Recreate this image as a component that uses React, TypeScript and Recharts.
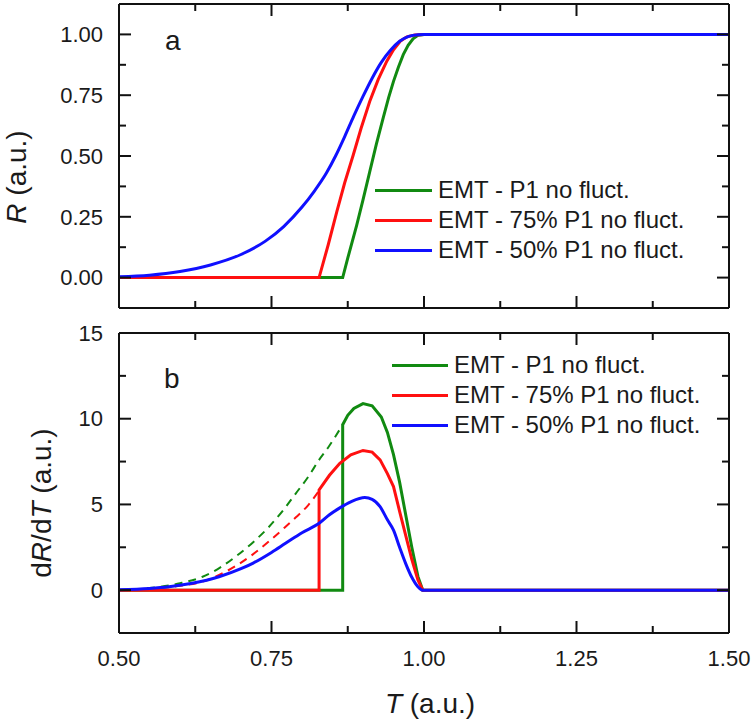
import React from "react";
import { LineChart, Line, XAxis, YAxis, ReferenceLine, Legend } from "recharts";

// panel a: R(T)
const tRGreen = [0.5, 0.8667, 0.875, 0.8896, 0.9, 0.911, 0.922, 0.933, 0.942, 0.95, 0.958, 0.966, 0.974, 0.982, 0.99, 1.0, 1.5];
const rGreen = [0, 0, 0.08, 0.215, 0.32, 0.435, 0.55, 0.656, 0.74, 0.807, 0.865, 0.917, 0.955, 0.982, 0.996, 1, 1];

const tRRed = [0.5, 0.828, 0.843, 0.857, 0.87, 0.884, 0.897, 0.911, 0.925, 0.939, 0.95, 0.961, 0.972, 0.985, 1.0, 1.5];
const rRed = [0, 0, 0.135, 0.27, 0.39, 0.504, 0.615, 0.724, 0.815, 0.89, 0.937, 0.972, 0.99, 0.998, 1, 1];

const tRBlue = [0.5, 0.55, 0.6, 0.65, 0.7, 0.74, 0.77, 0.8, 0.82, 0.84, 0.855, 0.87, 0.885, 0.9, 0.915, 0.93, 0.945, 0.96, 0.975, 0.99, 1.0, 1.5];
const rBlue = [0.004, 0.01, 0.025, 0.052, 0.095, 0.15, 0.21, 0.29, 0.355, 0.43, 0.5, 0.58, 0.665, 0.745, 0.82, 0.885, 0.935, 0.972, 0.992, 0.999, 1, 1];

// panel b: dR/dT
const tDGreen = [0.5, 0.8667, 0.8667, 0.875, 0.885, 0.9, 0.915, 0.93, 0.94, 0.95, 0.96, 0.97, 0.98, 0.99, 0.998, 1.5];
const dGreen = [0, 0, 9.65, 10.2, 10.6, 10.88, 10.75, 10.1, 9.2, 7.9, 6.3, 4.4, 2.5, 0.8, 0, 0];

const tDRed = [0.5, 0.828, 0.828, 0.845, 0.862, 0.88, 0.9, 0.915, 0.928, 0.94, 0.95, 0.96, 0.97, 0.98, 0.99, 0.998, 1.5];
const dRed = [0, 0, 5.85, 6.7, 7.4, 7.9, 8.15, 8.05, 7.6, 6.8, 6.04, 4.6, 3.2, 1.8, 0.6, 0, 0];

const tDBlue = [0.5, 0.55, 0.582, 0.62, 0.664, 0.7, 0.72, 0.75, 0.773, 0.8, 0.828, 0.845, 0.862, 0.88, 0.903, 0.915, 0.928, 0.94, 0.95, 0.96, 0.97, 0.98, 0.99, 0.998, 1.5];
const dBlue = [0.02, 0.1, 0.2, 0.4, 0.78, 1.25, 1.58, 2.2, 2.73, 3.35, 3.9, 4.4, 4.8, 5.15, 5.4, 5.3, 4.87, 4.1, 3.5, 2.5, 1.55, 0.75, 0.2, 0, 0];

// dashed continuations below the jump
const tDashGreen = [0.5, 0.55, 0.6, 0.637, 0.665, 0.691, 0.72, 0.746, 0.77, 0.79, 0.81, 0.828, 0.844, 0.8667];
const dDashGreen = [0, 0.12, 0.4, 0.78, 1.3, 1.95, 2.8, 3.7, 4.7, 5.65, 6.6, 7.6, 8.38, 9.65];

const tDashRed = [0.5, 0.55, 0.6, 0.637, 0.665, 0.691, 0.72, 0.746, 0.77, 0.79, 0.81, 0.828];
const dDashRed = [0, 0.08, 0.25, 0.5, 0.9, 1.4, 2.1, 2.85, 3.6, 4.25, 4.95, 5.8];

const xTicks = [0.5, 0.625, 0.75, 0.875, 1, 1.125, 1.25, 1.375, 1.5];
const rTicks = [0, 0.125, 0.25, 0.375, 0.5, 0.625, 0.75, 0.875, 1];
const dTicks = [0, 2.5, 5, 7.5, 10, 12.5, 15];

const names = ["EMT - P1 no fluct.", "EMT - 75% P1 no fluct.", "EMT - 50% P1 no fluct."];
const GREEN = "#118a11";
const RED = "#ff1010";
const BLUE = "#1010ff";
const colors = [GREEN, RED, BLUE];

const FONT = "'Liberation Sans', Arial, sans-serif";
const X_DOM = [0.5, 1.5];
const R_DOM = [-0.125, 1.125];
const D_DOM = [-2.5, 15];
const PLOT_W = 610;
const TOP_H = 304;
const BOT_H = 300;
const MAJOR_LEN = 12;
const MINOR_LEN = 7;

const zip = (t: number[], v: number[]) => t.map((x, i) => ({ t: x, v: v[i] }));

const isMajor = (v: number, step: number) => Math.abs(v / step - Math.round(v / step)) < 1e-6;

// box frame plus inward tick marks on all four sides
const frameMarks = (yDom: number[], yTicks: number[], yStep: number, plotH: number) => {
  const xu = (X_DOM[1] - X_DOM[0]) / PLOT_W;
  const yu = (yDom[1] - yDom[0]) / plotH;
  const segs: { x: number; y: number }[][] = [];
  xTicks.forEach((t) => {
    const l = (isMajor(t, 0.25) ? MAJOR_LEN : MINOR_LEN) * yu;
    segs.push([{ x: t, y: yDom[0] }, { x: t, y: yDom[0] + l }]);
    segs.push([{ x: t, y: yDom[1] }, { x: t, y: yDom[1] - l }]);
  });
  yTicks.forEach((v) => {
    const l = (isMajor(v, yStep) ? MAJOR_LEN : MINOR_LEN) * xu;
    segs.push([{ x: X_DOM[0], y: v }, { x: X_DOM[0] + l, y: v }]);
    segs.push([{ x: X_DOM[1], y: v }, { x: X_DOM[1] - l, y: v }]);
  });
  return [
    ...segs.map((s, i) => (
      <ReferenceLine key={`tk${i}`} segment={s} stroke="#111" strokeWidth={2} ifOverflow="visible" />
    )),
    <ReferenceLine key="f1" x={X_DOM[0]} stroke="#111" strokeWidth={2} ifOverflow="visible" />,
    <ReferenceLine key="f2" x={X_DOM[1]} stroke="#111" strokeWidth={2} ifOverflow="visible" />,
    <ReferenceLine key="f3" y={yDom[0]} stroke="#111" strokeWidth={2} ifOverflow="visible" />,
    <ReferenceLine key="f4" y={yDom[1]} stroke="#111" strokeWidth={2} ifOverflow="visible" />,
  ];
};

const makeXTick = (props: any) => {
  const v = props.payload.value;
  if (!isMajor(v, 0.25)) return <g />;
  return (
    <text x={props.x} y={Number(props.y) + 25} dy="0.35em" textAnchor="middle" fontSize={22} fontFamily={FONT} fill="#1a1a1a">
      {v.toFixed(2)}
    </text>
  );
};

const makeYTick = (step: number, digits: number) => (props: any) => {
  const v = props.payload.value;
  if (!isMajor(v, step)) return <g />;
  return (
    <text x={Number(props.x) - 16} y={props.y} dy="0.35em" textAnchor="end" fontSize={22} fontFamily={FONT} fill="#1a1a1a">
      {v.toFixed(digits)}
    </text>
  );
};

const LegendBox = ({ lineW }: { lineW: number }) => (
  <div style={{ fontFamily: FONT, fontSize: 24, color: "#1a1a1a" }}>
    {names.map((n, i) => (
      <div key={n} style={{ display: "flex", alignItems: "center", height: 30 }}>
        <span style={{ display: "inline-block", width: lineW, height: 3, background: colors[i], marginRight: 6 }} />
        <span>{n}</span>
      </div>
    ))}
  </div>
);

const App = () => {
  const rSeries = [zip(tRGreen, rGreen), zip(tRRed, rRed), zip(tRBlue, rBlue)];
  const dSeries = [zip(tDGreen, dGreen), zip(tDRed, dRed), zip(tDBlue, dBlue)];

  return (
    <div style={{ position: "absolute", left: 0, top: 0, width: 753, height: 724, background: "#fff", fontFamily: FONT }}>
      <div style={{ position: "absolute", left: 0, top: 0 }}>
        <LineChart width={753} height={312} margin={{ top: 4, right: 24, bottom: 4, left: 0 }}>
          <XAxis dataKey="t" type="number" domain={X_DOM} ticks={xTicks} interval={0} allowDataOverflow hide />
          <YAxis
            type="number"
            domain={R_DOM}
            ticks={rTicks}
            interval={0}
            allowDataOverflow
            width={119}
            axisLine={false}
            tickLine={false}
            tickSize={0}
            tickMargin={0}
            tick={makeYTick(0.25, 2)}
            label={() => (
              <text transform="translate(26,177) rotate(-90)" textAnchor="middle" fontSize={28} fontFamily={FONT} fill="#1a1a1a">
                <tspan fontStyle="italic">R</tspan> (a.u.)
              </text>
            )}
          />
          {rSeries.map((d, i) => (
            <Line key={i} data={d} dataKey="v" type={i === 2 ? "monotone" : "linear"} stroke={colors[i]} strokeWidth={3} dot={false} isAnimationActive={false} legendType="none" />
          ))}
          {frameMarks(R_DOM, rTicks, 0.25, TOP_H)}
          <Legend
            layout="vertical"
            align="center"
            verticalAlign="middle"
            content={() => <LegendBox lineW={57} />}
            wrapperStyle={{ left: 375, top: 175, width: 360, height: 95 }}
          />
        </LineChart>
      </div>

      <div style={{ position: "absolute", left: 0, top: 320 }}>
        <LineChart width={753} height={404} margin={{ top: 13, right: 24, bottom: 0, left: 0 }}>
          <XAxis
            dataKey="t"
            type="number"
            domain={X_DOM}
            ticks={xTicks}
            interval={0}
            allowDataOverflow
            height={91}
            axisLine={false}
            tickLine={false}
            tickSize={0}
            tickMargin={0}
            tick={makeXTick}
            label={() => (
              <text x={430} y={383} dy="0.35em" textAnchor="middle" fontSize={28} fontFamily={FONT} fill="#1a1a1a">
                <tspan fontStyle="italic">T</tspan> (a.u.)
              </text>
            )}
          />
          <YAxis
            type="number"
            domain={D_DOM}
            ticks={dTicks}
            interval={0}
            allowDataOverflow
            width={119}
            axisLine={false}
            tickLine={false}
            tickSize={0}
            tickMargin={0}
            tick={makeYTick(5, 0)}
            label={() => (
              <text transform="translate(51,183) rotate(-90)" textAnchor="middle" fontSize={28} fontFamily={FONT} fill="#1a1a1a">
                d<tspan fontStyle="italic">R</tspan>/d<tspan fontStyle="italic">T</tspan> (a.u.)
              </text>
            )}
          />
          <Line data={zip(tDashGreen, dDashGreen)} dataKey="v" type="monotone" stroke={GREEN} strokeWidth={2} strokeDasharray="8 6" dot={false} isAnimationActive={false} legendType="none" />
          <Line data={zip(tDashRed, dDashRed)} dataKey="v" type="monotone" stroke={RED} strokeWidth={2} strokeDasharray="8 6" dot={false} isAnimationActive={false} legendType="none" />
          {dSeries.map((d, i) => (
            <Line key={i} data={d} dataKey="v" type={i === 2 ? "monotone" : "linear"} stroke={colors[i]} strokeWidth={3} dot={false} isAnimationActive={false} legendType="none" />
          ))}
          {frameMarks(D_DOM, dTicks, 5, BOT_H)}
          <Legend
            layout="vertical"
            align="center"
            verticalAlign="middle"
            content={() => <LegendBox lineW={56} />}
            wrapperStyle={{ left: 392, top: 30, width: 360, height: 95 }}
          />
        </LineChart>
      </div>

      <div style={{ position: "absolute", left: 165, top: 27, fontSize: 28, lineHeight: 1, color: "#1a1a1a" }}>a</div>
      <div style={{ position: "absolute", left: 164, top: 365, fontSize: 28, lineHeight: 1, color: "#1a1a1a" }}>b</div>
    </div>
  );
};

export default App;
